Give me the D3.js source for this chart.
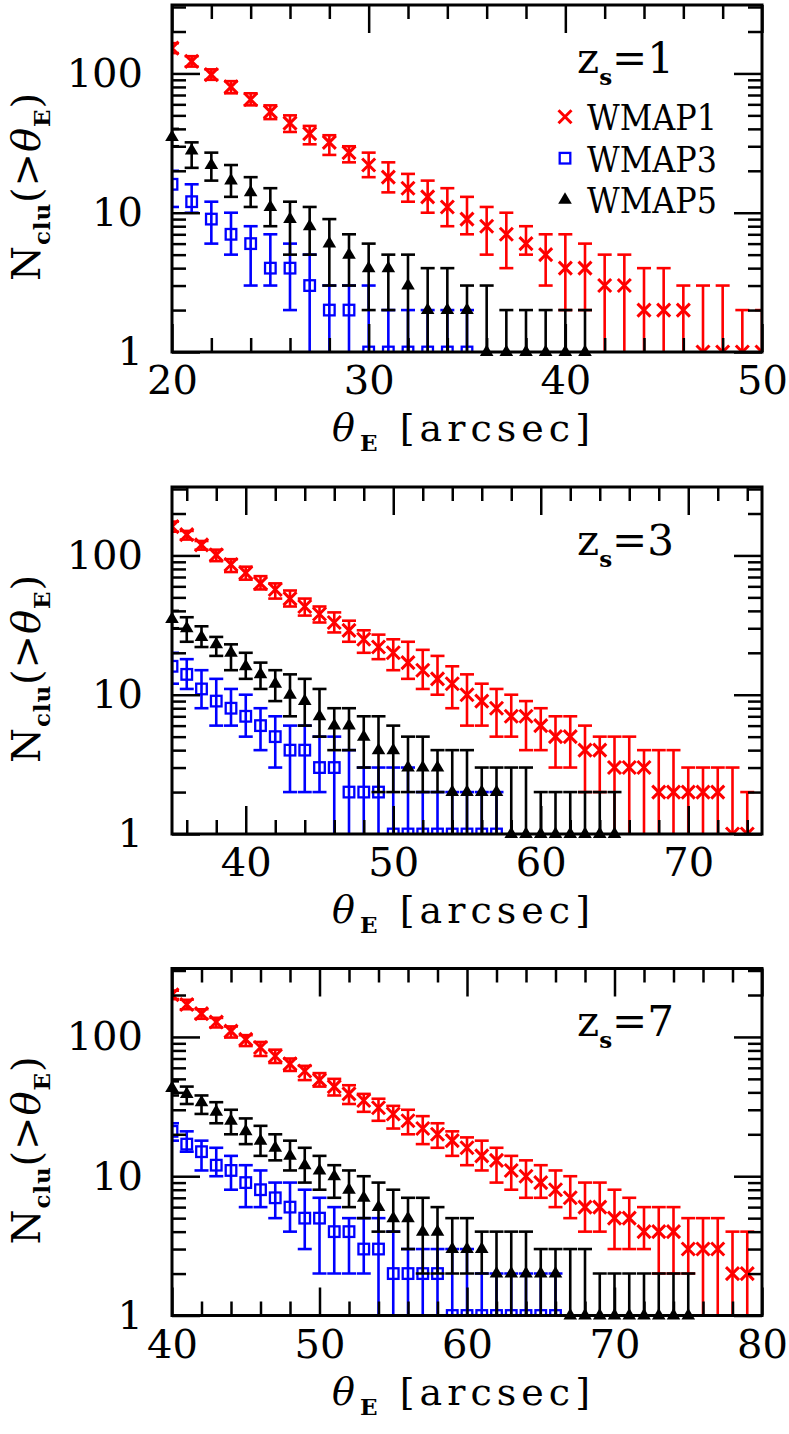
<!DOCTYPE html>
<html>
<head>
<meta charset="utf-8">
<script src="https://d3js.org/d3.v7.min.js"></script>
<style>
  body { margin: 0; background: #fff; }
  svg { display: block; }
</style>
</head>
<body>
<div id="chart"></div>
<script>
// ---- data: cumulative counts N(>theta_E) with error ranges ----
const zsValues = ["1", "3", "7"];
const xDomains = [[20, 50], [35, 75], [40, 80]];
const xTickLabels = [[20, 30, 40, 50], [40, 50, 60, 70], [40, 50, 60, 70, 80]];
const yTickLabels = [1, 10, 100];
const seriesNames = ["WMAP1", "WMAP3", "WMAP5"];

// z_s = 1
const z1Theta = [20,21,22,23,24,25,26,27,28,29,30,31,32,33,34,35,36,37,38,39,40,41,42,43,44,45,46,47,48,49,50];
const z1W1Med = [152,122,98,80,65,53,44,37,32,27,22,18,15,13,11,9,8,7,6,5,4,4,3,3,2,2,2,1,1,1,1];
const z1W1Hi  = [165,133,107,88,72,59,50,42,36,30,27,23,19,17,15,13,11,10,8,7,7,6,5,5,4,4,3,3,3,2,2];
const z1W1Lo  = [140,112,90,72,59,47,38,31,26,23,18,14,12,10,8,7,5,4,5,3,2,2,0.5,0.5,0.5,0.5,0.5,0.5,0.5,0.5,0.5];
const z1W3Med = [16,12,9,7,6,4,4,3,2,2,1,1,1,1,1,1];
const z1W3Hi  = [20,16,12,10,8,7,6,5,3,3,3,2,2,2,2,2];
const z1W3Lo  = [11,10,6,5,3,3,2,0.5,0.5,0.5,0.5,0.5,0.5,0.5,0.5,0.5];
const z1W5Med = [35,28,22,17,14,11,9,8,6,5,4,4,3,2,2,2,1,1,1,1,1,1];
const z1W5Hi  = [40,32,27,22,18,15,12,11,9,7,6,5,5,4,4,3,3,2,2,2,2,2];
const z1W5Lo  = [30,21,17,13,11,8,5,5,3,3,2,2,0.5,0.5,0.5,0.5,0.5,0.5,0.5,0.5,0.5,0.5];

// z_s = 3
const z2Theta = [35,36,37,38,39,40,41,42,43,44,45,46,47,48,49,50,51,52,53,54,55,56,57,58,59,60,61,62,63,64,65,66,67,68,69,70,71,72,73,74];
const z2W1Med = [161,141,119,101,86,75,63,57,49,43,38,33,29,25,22,20,17,15,13,12,10,9,8,7,7,6,5,5,4,4,3,3,3,2,2,2,2,2,1,1];
const z2W1Hi  = [175,150,127,110,94,83,71,63,56,49,43,39,34,29,27,25,24,21,19,16,14,12,11,10,9,8,7,7,6,5,5,5,4,4,4,3,3,3,3,2];
const z2W1Lo  = [148,130,110,91,76,67,57,49,43,37,33,28,24,20,18,15,13,11,10,8,6,6,5,5,4,4,3,3,2,2,0.5,0.5,0.5,0.5,0.5,0.5,0.5,0.5,0.5,0.5];
const z2W3Med = [16,14,11,9,8,7,6,5,4,4,3,3,2,2,2,1,1,1,1,1,1,1,1];
const z2W3Hi  = [20,18,15,13,11,10,8,7,6,6,5,5,4,3,3,3,3,2,2,2,2,2,2];
const z2W3Lo  = [12,11,8,6,6,5,4,3,2,2,2,0.5,0.5,0.5,0.5,0.5,0.5,0.5,0.5,0.5,0.5,0.5,0.5];
const z2W5Med = [35,30,26,23,20,16,14,12,10,9,7,6,6,5,4,4,3,3,3,2,2,2,2,1,1,1,1,1,1,1,1];
const z2W5Hi  = [40,36,31,26,23,20,17,15,14,13,11,8,8,7,7,6,5,5,4,4,4,3,3,3,3,2,2,2,2,2,2];
const z2W5Lo  = [30,24,22,19,15,13,11,9,7,6,5,4,4,3,2,2,2,2,2,0.5,0.5,0.5,0.5,0.5,0.5,0.5,0.5,0.5,0.5,0.5,0.5];

// z_s = 7
const z3Theta = [40,41,42,43,44,45,46,47,48,49,50,51,52,53,54,55,56,57,58,59,60,61,62,63,64,65,66,67,68,69,70,71,72,73,74,75,76,77,78,79];
const z3W1Med = [201,171,147,128,110,96,84,73,64,57,49,44,39,35,31,28,25,22,20,18,16,14,13,11,10,9,8,7,6,6,5,5,4,4,4,3,3,3,2,2];
const z3W1Hi  = [215,185,158,137,119,103,92,81,70,62,55,50,45,39,36,32,30,27,24,21,19,18,16,14,13,12,11,10,9,9,8,7,6,6,6,5,5,5,4,4];
const z3W1Lo  = [187,158,135,117,99,86,73,65,57,49,44,38,33,29,25,22,20,17,16,14,12,11,9,8,7,7,6,5,4,4,3,3,3,2,2,2,0.5,0.5,0.5,0.5];
const z3W3Med = [21,17,15,12,11,9,8,7,6,5,5,4,4,3,3,2,2,2,2,1,1,1,1,1,1,1,1];
const z3W3Hi  = [24,21,18,16,14,12,11,9,9,8,7,6,5,5,5,4,3,3,3,3,3,2,2,2,2,2,2];
const z3W3Lo  = [18,15,11,10,8,6,6,5,4,3,2,2,2,2,0.5,0.5,0.5,0.5,0.5,0.5,0.5,0.5,0.5,0.5,0.5,0.5,0.5];
const z3W5Med = [43,39,34,29,25,21,18,16,14,12,11,10,8,7,6,5,5,4,4,3,3,3,2,2,2,2,2,1,1,1,1,1,1,1,1,1];
const z3W5Hi  = [48,44,38,34,30,26,23,20,18,16,14,12,11,10,9,8,7,7,6,5,5,4,4,4,4,3,3,3,3,2,2,2,2,2,2,2];
const z3W5Lo  = [38,33,28,24,20,17,14,13,11,9,8,7,6,5,4,4,3,2,2,2,2,2,0.5,0.5,0.5,0.5,0.5,0.5,0.5,0.5,0.5,0.5,0.5,0.5,0.5,0.5];

const panels = [
    {theta: z1Theta, med: [z1W1Med, z1W3Med, z1W5Med], hi: [z1W1Hi, z1W3Hi, z1W5Hi], lo: [z1W1Lo, z1W3Lo, z1W5Lo]},
    {theta: z2Theta, med: [z2W1Med, z2W3Med, z2W5Med], hi: [z2W1Hi, z2W3Hi, z2W5Hi], lo: [z2W1Lo, z2W3Lo, z2W5Lo]},
    {theta: z3Theta, med: [z3W1Med, z3W3Med, z3W5Med], hi: [z3W1Hi, z3W3Hi, z3W5Hi], lo: [z3W1Lo, z3W3Lo, z3W5Lo]}
];

// ---- layout ----
const W = 789, H = 1434;
const plotL = 172, plotR = 762, plotH = 347;
const panelTop = [5, 487, 968.5];
const yMax = 310;
const colors = ["#ff0000", "#0000ff", "#000000"];
const serif = "'DejaVu Serif', serif";

const svg = d3.select("#chart").append("svg").attr("width", W).attr("height", H);

const crossPath = "M-6.5,-6.5L6.5,6.5M-6.5,6.5L6.5,-6.5";
const triPath = "M0,-7.5L6.8,4L-6.8,4Z";

function minorLogTicks() {
    const t = [];
    [1, 10, 100].forEach(dec => {
        for (let k = 2; k <= 9; k++) if (dec * k < yMax) t.push(dec * k);
    });
    return t;
}

function sub(sel, txt, dy) {
    sel.append("tspan").attr("font-weight", "bold").attr("font-size", 23).attr("dy", dy).text(txt);
}

panels.forEach(function(p, pi) {
    const top = panelTop[pi], bottom = top + plotH;
    const x = d3.scaleLinear().domain(xDomains[pi]).range([plotL, plotR]);
    const y = d3.scaleLog().domain([1, yMax]).range([bottom, top]);
    const g = svg.append("g");

    const clipId = "clip" + pi;
    svg.append("clipPath").attr("id", clipId)
        .append("rect").attr("x", plotL).attr("y", top).attr("width", plotR - plotL).attr("height", plotH);

    const clipped = g.append("g").attr("clip-path", "url(#" + clipId + ")");
    const free = g.append("g");

    p.med.forEach(function(meds, si) {
        const pts = meds.map((m, i) => ({t: p.theta[i], m: m, hi: p.hi[si][i], lo: p.lo[si][i]}));
        const c = colors[si];
        const s = clipped.append("g").attr("stroke", c).attr("stroke-width", 2.6).attr("fill", "none");
        // error bars
        s.selectAll(".bar").data(pts).enter().append("line")
            .attr("x1", d => x(d.t)).attr("x2", d => x(d.t))
            .attr("y1", d => y(d.lo)).attr("y2", d => y(d.hi));
        s.selectAll(".capHi").data(pts).enter().append("line")
            .attr("x1", d => x(d.t) - 7).attr("x2", d => x(d.t) + 7)
            .attr("y1", d => y(d.hi)).attr("y2", d => y(d.hi));
        s.selectAll(".capLo").data(pts).enter().append("line")
            .attr("x1", d => x(d.t) - 7).attr("x2", d => x(d.t) + 7)
            .attr("y1", d => y(d.lo)).attr("y2", d => y(d.lo));
        // markers
        if (si === 0) {
            s.selectAll(".mk").data(pts).enter().append("path")
                .attr("d", crossPath).attr("stroke-width", 3)
                .attr("transform", d => "translate(" + x(d.t) + "," + y(d.m) + ")");
        } else if (si === 1) {
            s.selectAll(".mk").data(pts).enter().append("rect")
                .attr("x", d => x(d.t) - 5.3).attr("y", d => y(d.m) - 5.3)
                .attr("width", 10.6).attr("height", 10.6)
                .attr("fill", "none").attr("stroke-width", 2.3);
        } else {
            free.selectAll(".mk").data(pts).enter().append("path")
                .attr("d", triPath).attr("fill", c)
                .attr("transform", d => "translate(" + x(d.t) + "," + y(d.m) + ")");
        }
    });

    // ticks, all pointing inward
    const xMajor = d3.range(Math.ceil(xDomains[pi][0] / 10) * 10, xDomains[pi][1] + 0.1, 10);
    const xMinor = d3.range(Math.ceil(xDomains[pi][0] / 2) * 2, xDomains[pi][1] + 0.1, 2).filter(v => v % 10 !== 0);
    const yMinor = minorLogTicks();
    function tickAxis(axis, scale, vals, size, tr) {
        const a = g.append("g").attr("transform", tr)
            .call(axis(scale).tickValues(vals).tickSize(-size).tickSizeOuter(0).tickFormat(""));
        a.select(".domain").remove();
        a.selectAll("line").attr("stroke", "#000").attr("stroke-width", 2.5);
    }
    tickAxis(d3.axisBottom, x, xMajor, 28, "translate(0," + bottom + ")");
    tickAxis(d3.axisBottom, x, xMinor, 14, "translate(0," + bottom + ")");
    tickAxis(d3.axisTop, x, xMajor, 28, "translate(0," + top + ")");
    tickAxis(d3.axisTop, x, xMinor, 14, "translate(0," + top + ")");
    tickAxis(d3.axisLeft, y, yTickLabels, 28, "translate(" + plotL + ",0)");
    tickAxis(d3.axisLeft, y, yMinor, 14, "translate(" + plotL + ",0)");
    tickAxis(d3.axisRight, y, yTickLabels, 28, "translate(" + plotR + ",0)");
    tickAxis(d3.axisRight, y, yMinor, 14, "translate(" + plotR + ",0)");

    g.append("rect").attr("x", plotL).attr("y", top).attr("width", plotR - plotL).attr("height", plotH)
        .attr("fill", "none").attr("stroke", "#000").attr("stroke-width", 3);

    // tick labels
    const xl = g.append("g").attr("transform", "translate(0," + bottom + ")")
        .call(d3.axisBottom(x).tickValues(xTickLabels[pi]).tickSize(0).tickFormat(d3.format("d")));
    xl.select(".domain").remove();
    xl.attr("font-family", serif).attr("font-size", 40);
    xl.selectAll("text").attr("y", 42).attr("dy", null).attr("fill", "#000");

    const yl = g.append("g").attr("transform", "translate(" + plotL + ",0)")
        .call(d3.axisLeft(y).tickValues(yTickLabels).tickSize(0).tickPadding(29).tickFormat(d3.format("d")));
    yl.select(".domain").remove();
    yl.attr("font-family", serif).attr("font-size", 40);
    yl.selectAll("text").attr("fill", "#000");

    // axis titles
    const xt = g.append("text").attr("x", (plotL + plotR) / 2 - 6).attr("y", bottom + 89)
        .attr("text-anchor", "middle").attr("font-family", serif).attr("font-size", 38)
        .attr("textLength", 258).attr("lengthAdjust", "spacing");
    xt.append("tspan").attr("font-style", "italic").text("θ");
    sub(xt, "E", 10);
    xt.append("tspan").attr("dy", -10).text(" [arcsec]");

    const yt = g.append("text").attr("transform", "translate(40," + (top + 182) + ") rotate(-90)")
        .attr("text-anchor", "middle").attr("font-family", serif).attr("font-size", 40)
        .attr("textLength", 188).attr("lengthAdjust", "spacing");
    yt.append("tspan").text("N");
    sub(yt, "clu", 10);
    yt.append("tspan").attr("dy", -10).text("(>");
    yt.append("tspan").attr("font-style", "italic").text("θ");
    sub(yt, "E", 10);
    yt.append("tspan").attr("dy", -10).text(")");

    // source redshift label
    const zl = g.append("text").attr("x", 577).attr("y", top + 67.5)
        .attr("font-family", serif).attr("font-size", 42);
    zl.append("tspan").text("z");
    sub(zl, "s", 12);
    zl.append("tspan").attr("dy", -12).text("=" + zsValues[pi]);

    // legend only in the first panel
    if (pi === 0) {
        seriesNames.forEach(function(name, si) {
            const ly = top + 111.7 + si * 41.5;
            if (si === 0) {
                g.append("path").attr("d", crossPath).attr("stroke", colors[0]).attr("stroke-width", 3)
                    .attr("fill", "none").attr("transform", "translate(565," + ly + ")");
            } else if (si === 1) {
                g.append("rect").attr("x", 565 - 5.3).attr("y", ly - 5.3).attr("width", 10.6).attr("height", 10.6)
                    .attr("fill", "none").attr("stroke", colors[1]).attr("stroke-width", 2.3);
            } else {
                g.append("path").attr("d", triPath).attr("fill", colors[2]).attr("transform", "translate(565," + ly + ")");
            }
            g.append("text").attr("x", 587).attr("y", ly + 13.3)
                .attr("font-family", serif).attr("font-size", 35)
                .attr("textLength", 130).attr("lengthAdjust", "spacingAndGlyphs")
                .text(name);
        });
    }
});
</script>
</body>
</html>
